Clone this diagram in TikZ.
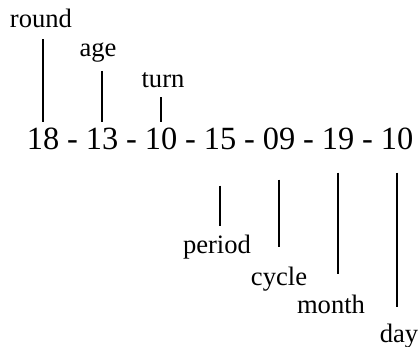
\documentclass[tikz,border=0pt]{standalone}
\usepackage{fontspec}
\setmainfont{Liberation Serif}
\usetikzlibrary{positioning}

\begin{document}
\begin{tikzpicture}[
      x=1pt, y=-1pt,
      num/.style={inner sep=0pt, anchor=base, font=\fontsize{32.4}{36}\selectfont},
      lbl/.style={inner sep=0pt, anchor=base, font=\fontsize{26.6}{30}\selectfont},
      tick/.style={line width=1.2pt}
    ]
    \useasboundingbox (0,0) rectangle (420,347);

    \foreach \v [count=\i] in {18,13,10,15,09,19,10}
      \node[num] (n\i) at ({43+59*(\i-1)},150) {\v};
    \foreach \i in {1,...,6}
      \node[num] (dash\i) at ({72.5+59*(\i-1)},150) {-};

    \node[lbl] (round_lbl) at (41,28) {round};
    \node[lbl] (age_lbl) at (98,57) {age};
    \node[lbl] (turn_lbl) at (163,88) {turn};

    \node[lbl] (period_lbl) at (217,254) {period};
    \node[lbl] (cycle_lbl) at (279,285) {cycle};
    \node[lbl] (month_lbl) at (331,313) {month};
    \node[lbl] (day_lbl) at (399,342) {day};

    \draw[tick, shorten <=11pt, shorten >=6.5pt] (n1.north |- round_lbl.south) -- (n1.north);
    \draw[tick, shorten <=8pt, shorten >=6.5pt] (n2.north |- age_lbl.south) -- (n2.north);
    \draw[tick, shorten <=9pt, shorten >=6.5pt] (n3.north |- turn_lbl.south) -- (n3.north);

    \draw[tick, shorten <=35pt, shorten >=9pt] (n4.south) -- (n4.south |- period_lbl.north);
    \draw[tick, shorten <=29pt, shorten >=19pt] (n5.south) -- (n5.south |- cycle_lbl.north);
    \draw[tick, shorten <=22pt, shorten >=20pt] (n6.south) -- (n6.south |- month_lbl.north);
    \draw[tick, shorten <=22pt, shorten >=16pt] (n7.south) -- (n7.south |- day_lbl.north);

  \end{tikzpicture}
\end{document}
